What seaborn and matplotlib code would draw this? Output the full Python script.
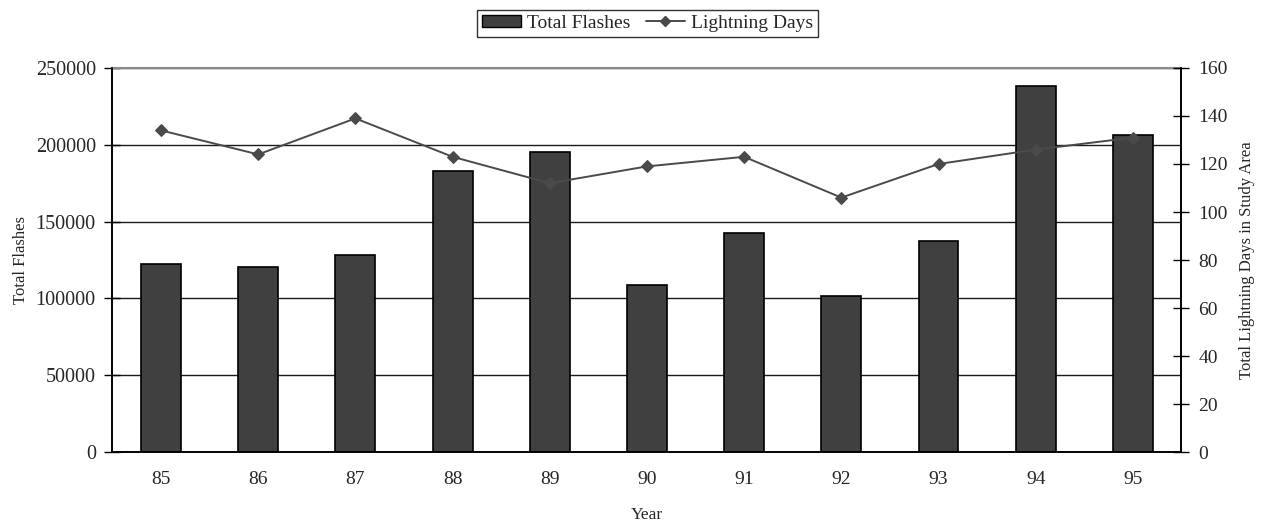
import numpy as np
import pandas as pd
import matplotlib
matplotlib.use("Agg")
import matplotlib.pyplot as plt
from matplotlib.lines import Line2D
from matplotlib.patches import Patch
import seaborn as sns

years = ["85", "86", "87", "88", "89", "90", "91", "92", "93", "94", "95"]
total_flashes = [122500, 120500, 128000, 183000, 195000, 109000, 142500, 101500, 137500, 238000, 206500]
lightning_days = [134, 124, 139, 123, 112, 119, 123, 106, 120, 126, 131]
flash_ticks = [0, 50000, 100000, 150000, 200000, 250000]
day_ticks = [0, 20, 40, 60, 80, 100, 120, 140, 160]

sns.set_theme(style="white")
plt.rcParams["font.family"] = ["Liberation Serif", "DejaVu Serif"]

df = pd.DataFrame({"Year": years, "Flashes": total_flashes, "Days": lightning_days})
df["pos"] = np.arange(len(years))

fig = plt.figure(figsize=(12.62, 5.21), dpi=100)
ax = fig.add_axes([0.0891, 0.1324, 0.8471, 0.7371])

sns.barplot(data=df, x="Year", y="Flashes", ax=ax, color="#404040",
            saturation=1, width=0.41, edgecolor="black", linewidth=1.2, zorder=3)
ax.set_xlim(-0.5, len(years) - 0.5)
ax.set_ylim(0, 250000)
ax.set_yticks(flash_ticks)
ax.set_yticklabels([str(t) for t in flash_ticks])
ax.yaxis.grid(True, color="#1a1a1a", linewidth=1.0)
ax.set_axisbelow(True)

# category ticks sit between bars, labels centred under bars
ax.set_xticks(np.arange(len(years)))
ax.set_xticklabels(years)
ax.set_xticks(np.arange(len(years) + 1) - 0.5, minor=True)
ax.tick_params(axis="x", which="major", length=0, pad=14, labelsize=14)
ax.tick_params(axis="x", which="minor", direction="out", length=7, width=1, color="black")
ax.tick_params(axis="y", direction="inout", length=12, width=1, color="black",
               labelsize=14.5, pad=6, left=True)
ax.set_xlabel("Year", fontsize=12.5, labelpad=13)
ax.set_ylabel("Total Flashes", fontsize=12, labelpad=5)

for side in ["left", "bottom", "right"]:
    ax.spines[side].set_color("black")
    ax.spines[side].set_linewidth(1.2)
ax.spines["top"].set_color("#8a8a8a")
ax.spines["top"].set_linewidth(1.5)

ax2 = ax.twinx()
sns.lineplot(data=df, x="pos", y="Days", ax=ax2, color="#4a4a4a", linewidth=1.4,
             marker="D", markersize=6.5, markeredgecolor="#4a4a4a", zorder=5)
ax2.set_ylim(0, 160)
ax2.set_xlim(-0.5, len(years) - 0.5)
ax2.set_yticks(day_ticks)
ax2.set_yticklabels([str(t) for t in day_ticks])
ax2.tick_params(axis="y", direction="inout", length=12, width=1, color="black",
                labelsize=14, pad=6, right=True)
ax2.set_ylabel("Total Lightning Days in Study Area", fontsize=12, labelpad=8)
ax2.set_xlabel("")
for side in ["left", "bottom", "right"]:
    ax2.spines[side].set_color("black")
    ax2.spines[side].set_linewidth(1.2)
ax2.spines["top"].set_visible(False)

handles = [
    Patch(facecolor="#404040", edgecolor="black", linewidth=1.0),
    Line2D([0], [0], color="#4a4a4a", linewidth=1.4, marker="D",
           markersize=5, markeredgecolor="#4a4a4a"),
]
leg = fig.legend(handles, ["Total Flashes", "Lightning Days"], loc="upper center",
                 bbox_to_anchor=(0.513, 0.981), ncol=2, frameon=True, fancybox=False,
                 fontsize=14, handlelength=2.0, handleheight=0.55, handletextpad=0.3,
                 columnspacing=0.8, borderpad=0.25, borderaxespad=0)
leg.get_frame().set_edgecolor("black")
leg.get_frame().set_linewidth(1.0)

fig.savefig("out.png", dpi=100)
